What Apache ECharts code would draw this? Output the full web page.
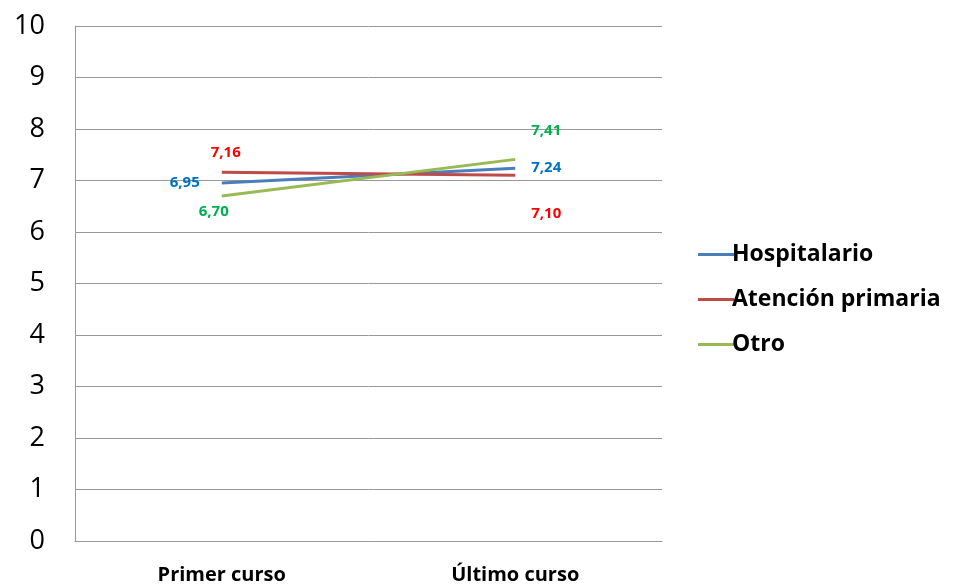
<!DOCTYPE html>
<html>
<head>
<meta charset="utf-8">
<script src="https://cdn.jsdelivr.net/npm/echarts@6/dist/echarts.min.js"></script>
<style>
  html, body { margin: 0; padding: 0; background: #fff; }
  #chart { width: 953px; height: 586px; }
</style>
</head>
<body>
<div id="chart"></div>
<script>
// Categories and values
const categories = ['Primer curso', 'Último curso'];
const hospitalario = [6.95, 7.24];
const atencionPrimaria = [7.16, 7.10];
const otro = [6.70, 7.41];
const yTicks = [0, 1, 2, 3, 4, 5, 6, 7, 8, 9, 10];

const fmt = v => v.toFixed(2).replace('.', ',');
const FONT = '"Open Sans", "Liberation Sans", sans-serif';

function labelStyle(color) {
  return { show: true, color: color, fontWeight: 'bold', fontSize: 15, fontFamily: FONT,
           formatter: p => fmt(p.value) };
}

function makeSeries(name, values, lineColor, labelColor, labelPlacement) {
  return {
    name: name,
    type: 'line',
    data: values.map((v, i) => ({ value: v, label: Object.assign(labelStyle(labelColor), labelPlacement[i]) })),
    symbol: 'circle',
    symbolSize: 0,
    showSymbol: true,
    lineStyle: { color: lineColor, width: 3 },
    itemStyle: { color: lineColor },
    emphasis: { disabled: true },
    animation: false
  };
}

const chart = echarts.init(document.getElementById('chart'));
chart.setOption({
  backgroundColor: '#ffffff',
  grid: { left: 75, top: 26, width: 587, height: 515, containLabel: false },
  legend: {
    orient: 'vertical',
    left: 693,
    top: 238,
    itemWidth: 36,
    itemHeight: 3,
    itemGap: 22,
    icon: 'rect',
    textStyle: { fontSize: 23, fontWeight: 'bold', color: '#000', fontFamily: FONT, padding: [0, 0, 0, -7] },
    data: ['Hospitalario', 'Atención primaria', 'Otro']
  },
  xAxis: {
    type: 'category',
    data: categories,
    boundaryGap: true,
    axisLine: { show: true, lineStyle: { color: '#999', width: 1 } },
    axisTick: { show: false },
    axisLabel: { fontSize: 20, fontWeight: 'bold', color: '#000', fontFamily: FONT, margin: 24 }
  },
  yAxis: {
    type: 'value',
    min: yTicks[0],
    max: yTicks[yTicks.length - 1],
    interval: 1,
    axisLine: { show: true, lineStyle: { color: '#999', width: 1 } },
    axisTick: { show: false },
    splitLine: { show: true, lineStyle: { color: '#999', width: 1 } },
    axisLabel: { fontSize: 27, color: '#000', fontFamily: FONT, margin: 30, align: 'right' }
  },
  series: [
    makeSeries('Hospitalario', hospitalario, '#4A7EBB', '#0070C0',
      [{ position: 'left', distance: 22 }, { position: 'right', distance: 16 }]),
    makeSeries('Atención primaria', atencionPrimaria, '#BE4B48', '#FF0000',
      [{ position: 'top', distance: 12, offset: [4, 0] }, { position: 'right', distance: 16, offset: [0, 38] }]),
    makeSeries('Otro', otro, '#98B954', '#00B050',
      [{ position: 'bottom', distance: 8, offset: [-8, 0] }, { position: 'right', distance: 16, offset: [0, -29] }])
  ]
});
</script>
</body>
</html>
